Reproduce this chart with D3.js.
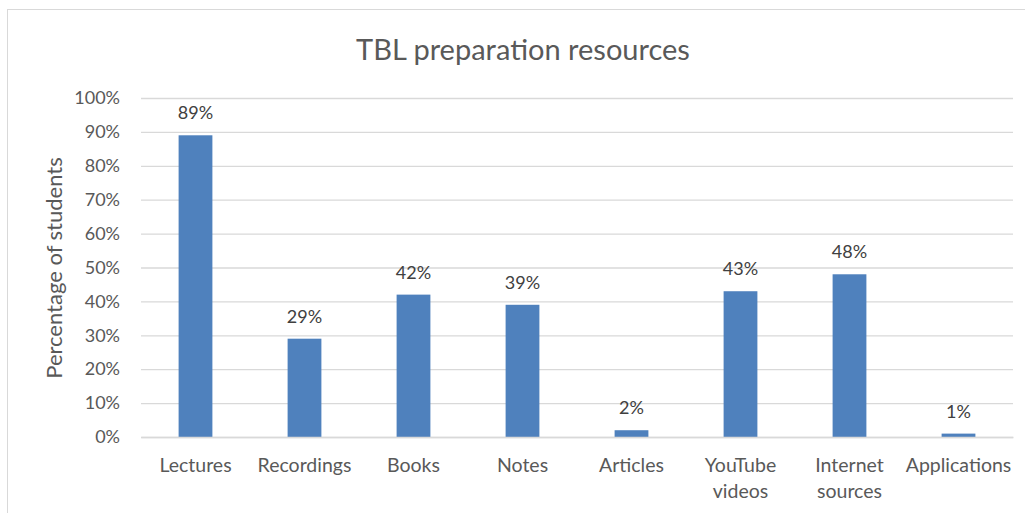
<!DOCTYPE html>
<html>
<head>
<meta charset="utf-8">
<script src="https://cdn.jsdelivr.net/npm/d3@7"></script>
<style>
  body { margin: 0; background: #fff; }
  text { font-family: Lato, "Open Sans", sans-serif; }
</style>
</head>
<body>
<div id="chart"></div>
<script>
// data
const categories = ["Lectures", "Recordings", "Books", "Notes", "Articles", "YouTube videos", "Internet sources", "Applications"];
const values = [89, 29, 42, 39, 2, 43, 48, 1];
const yTicks = [0, 10, 20, 30, 40, 50, 60, 70, 80, 90, 100];

(() => {
  const W = 1025, H = 513;
  const margin = {top: 98, right: 12, bottom: 76, left: 141};
  const width = W - margin.left - margin.right,
        height = H - margin.top - margin.bottom;

  const svg = d3.select("#chart").append("svg")
      .attr("width", W)
      .attr("height", H);

  // chart border
  svg.append("rect")
     .attr("x", 7.5).attr("y", 9.5)
     .attr("width", W + 10).attr("height", H + 10)
     .attr("fill", "#fff")
     .attr("stroke", "#d9d9d9");

  svg.append("text")
     .attr("x", 523).attr("y", 60)
     .attr("text-anchor", "middle")
     .attr("font-size", 29)
     .attr("fill", "#595959")
     .text("TBL preparation resources");

  const graph = svg.append("g")
      .attr("transform", `translate(${margin.left},${margin.top})`);

  const x = d3.scaleBand()
      .domain(categories)
      .range([0, width])
      .paddingInner(0.69)
      .paddingOuter(0.345);

  const y = d3.scaleLinear()
      .domain([0, 100])
      .range([height, 0]);

  // gridlines + y labels
  const axeY = d3.axisLeft(y)
      .tickValues(yTicks)
      .tickSize(-width)
      .tickPadding(21)
      .tickFormat(d => d + "%");

  const gy = graph.append("g").call(axeY);
  gy.select(".domain").remove();
  gy.selectAll("line").attr("stroke", "#d9d9d9").attr("stroke-width", 1.3);
  gy.selectAll("text")
    .attr("font-size", 18)
    .attr("fill", "#595959")
    .style("font-family", "Lato, sans-serif");

  // bars
  graph.selectAll("rect.bar")
      .data(values)
      .enter()
      .append("rect")
      .attr("class", "bar")
      .attr("x", (d, i) => x(categories[i]))
      .attr("y", d => y(d))
      .attr("width", x.bandwidth())
      .attr("height", d => height - y(d))
      .attr("fill", "#4f81bd");

  // value labels
  graph.selectAll("text.val")
      .data(values)
      .enter()
      .append("text")
      .attr("class", "val")
      .attr("x", (d, i) => x(categories[i]) + x.bandwidth() / 2)
      .attr("y", d => y(d) - 16)
      .attr("text-anchor", "middle")
      .attr("font-size", 18)
      .attr("fill", "#404040")
      .text(d => d + "%");

  // category labels (wrap two-word names)
  const axeX = d3.axisBottom(x).tickSize(0).tickPadding(0);
  const gx = graph.append("g")
      .attr("transform", `translate(0,${height})`)
      .call(axeX);
  gx.select(".domain").attr("stroke", "#d9d9d9").attr("stroke-width", 1.3);
  gx.selectAll("text").each(function(d) {
      const t = d3.select(this);
      t.text(null)
       .attr("dy", null)
       .attr("y", 0)
       .attr("font-size", 19.5)
       .attr("fill", "#595959")
       .style("font-family", "Lato, sans-serif");
      const words = d === "Applications" ? [d] : d.split(" ");
      words.forEach((w, k) => {
        t.append("tspan").attr("x", 0).attr("y", 35 + k * 26).text(w);
      });
  });

  // y axis title
  svg.append("text")
     .attr("transform", "translate(62,268) rotate(-90)")
     .attr("text-anchor", "middle")
     .attr("font-size", 22)
     .attr("fill", "#595959")
     .text("Percentage of students");
})();
</script>
</body>
</html>
